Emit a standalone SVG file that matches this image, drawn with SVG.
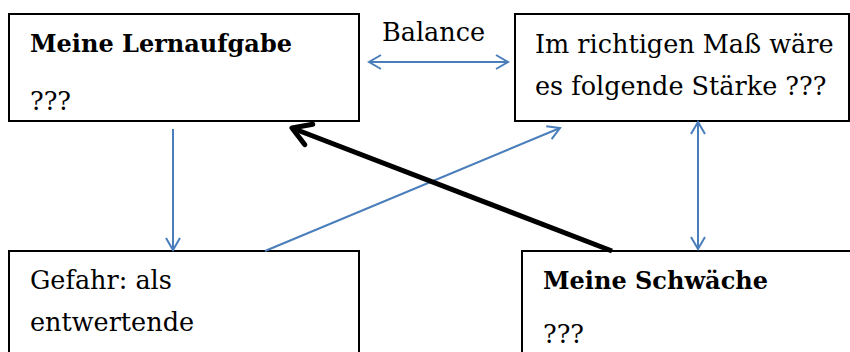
<svg xmlns="http://www.w3.org/2000/svg" width="850" height="352" viewBox="0 0 850 352">
<style>
.box{fill:#fff;stroke:#000;stroke-width:2}
.t{font-family:"DejaVu Serif","Liberation Serif",serif;font-size:25.5px;fill:#000}
.b{font-weight:bold;font-size:24px}
.c{fill:none;stroke:#4a7ebb;stroke-width:2}
.k{fill:none;stroke:#000;stroke-width:5}
</style>
<defs>
<marker id="ab" markerUnits="userSpaceOnUse" markerWidth="16" markerHeight="18" refX="13" refY="8" orient="auto-start-reverse" viewBox="0 0 16 16">
<path d="M1,1 L13,8 L1,15" fill="none" stroke="#4a7ebb" stroke-width="2"/>
</marker>
<marker id="ak" markerUnits="userSpaceOnUse" markerWidth="30" markerHeight="30" refX="22" refY="15" orient="auto" viewBox="0 0 30 30">
<path d="M4,4 L22,15 L4,26" fill="none" stroke="#000" stroke-width="5" stroke-linecap="round" stroke-linejoin="round"/>
</marker>
</defs>
<g id="n1">
<rect class="box" x="9" y="14" width="350" height="107"/>
<text class="t b" x="30" y="52">Meine Lernaufgabe</text>
<text class="t" x="30" y="110">???</text>
</g>
<g id="n2">
<rect class="box" x="515" y="14" width="334" height="107"/>
<text class="t" x="535" y="53">Im richtigen Maß wäre</text>
<text class="t" x="535" y="95">es folgende Stärke ???</text>
</g>
<g id="n3">
<rect class="box" x="9" y="251" width="350" height="130"/>
<text class="t" x="30" y="289">Gefahr: als</text>
<text class="t" x="30" y="331">entwertende</text>
</g>
<g id="n4">
<rect class="box" x="522" y="251" width="340" height="130"/>
<text class="t b" x="543" y="289">Meine Schwäche</text>
<text class="t" x="543" y="343">???</text>
</g>
<g id="label">
<text class="t" x="382" y="41">Balance</text>
</g>
<g id="connectors">
<line class="c" x1="369" y1="62" x2="508" y2="62" marker-start="url(#ab)" marker-end="url(#ab)"/>
<line class="c" x1="173" y1="129" x2="173" y2="250" marker-end="url(#ab)"/>
<line class="c" x1="265" y1="251" x2="560" y2="128" marker-end="url(#ab)"/>
<line class="c" x1="698" y1="122" x2="698" y2="249" marker-start="url(#ab)" marker-end="url(#ab)"/>
<line class="k" x1="612" y1="251" x2="292" y2="128" marker-end="url(#ak)"/>
</g>
</svg>
